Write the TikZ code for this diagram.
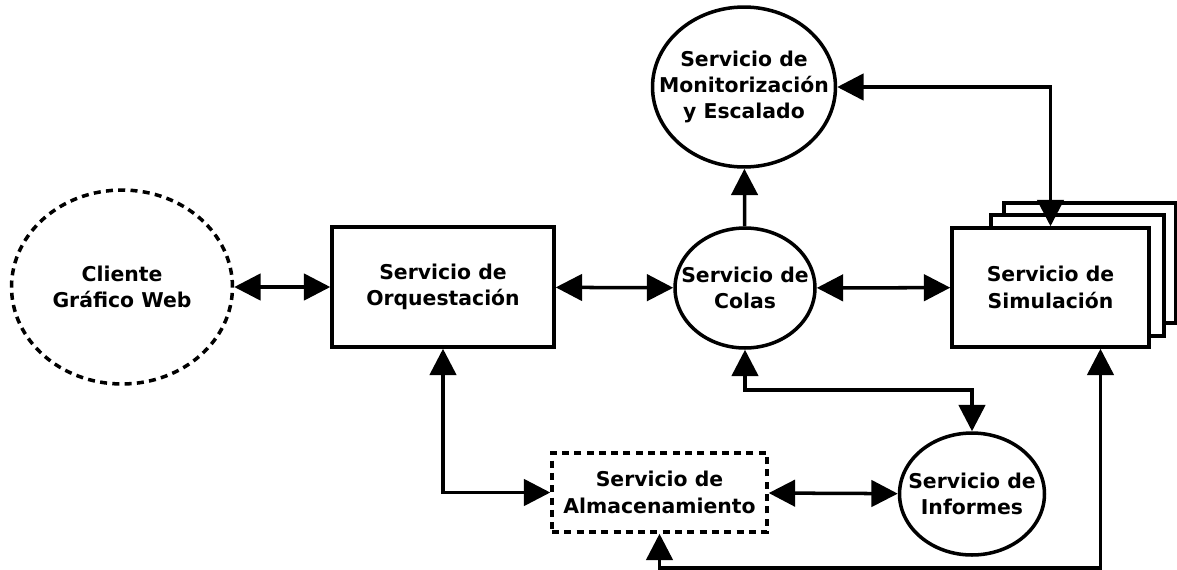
\documentclass[tikz,border=0pt]{standalone}
\usepackage{fontspec}
\setmainfont{DejaVu Sans}
\usetikzlibrary{shapes.geometric,arrows.meta}
\tikzset{
    srvtext/.style = {align=center, font=\fontsize{11.6pt}{15pt}\selectfont\bfseries},
    srv/.style = {draw, line width=2pt, fill=white, inner sep=0pt, srvtext},
    box/.style = {srv, rectangle},
    oval/.style = {srv, ellipse},
    dashy/.style = {dash pattern=on 4pt off 3pt},
    tip/.tip = {Triangle[length=15pt,width=15pt]},
    link/.style = {line width=2pt, tip-tip},
    onelink/.style = {line width=2pt, -tip},
}
\begin{document}
\begin{tikzpicture}[x = 0.02cm, y = -0.02cm]
        \useasboundingbox (0,0) rectangle (1177,569);
        \node [oval, dashy, minimum width=4.42cm, minimum height=3.88cm] (cli) at (122,287) {Cliente\\Gráfico Web};
        \node [box, minimum width=4.44cm, minimum height=2.4cm] (orq) at (443,287) {Servicio de\\Orquestación};
        \node [oval, minimum width=2.8cm, minimum height=2.4cm,
               label={[srvtext]center:Servicio de\\Colas}] (colas) at (745,288) {};
        \node [oval, minimum width=3.66cm, minimum height=3.2cm,
               label={[srvtext]center:Servicio de\\Monitorización\\y Escalado}] (mon) at (744,87) {};
        \node [box, minimum width=3.44cm, minimum height=2.4cm] (sim3) at (1090,263) {};
        \node [box, minimum width=3.46cm, minimum height=2.42cm] (sim2) at (1077.5,275.5) {};
        \node [box, minimum width=3.94cm, minimum height=2.38cm] (sim) at (1050.5,287.5) {Servicio de\\Simulación};
        \node [box, dashy, minimum width=4.3cm, minimum height=1.58cm] (alm) at (659.5,492.5) {Servicio de\\Almacenamiento};
        \node [oval, minimum width=2.9cm, minimum height=2.44cm,
               label={[srvtext]center:Servicio de\\Informes}] (inf) at (972,494) {};
        \coordinate (colasdown) at (745,390);
        \coordinate (almdown) at (659.5,568);
        \draw [link] (cli) -- (orq);
        \draw [link] (orq) -- (colas);
        \draw [link] (colas) -- (sim);
        \draw [onelink] (colas) -- (mon);
        \draw [link] (mon) -| (sim);
        \draw [link] (orq) |- (alm);
        \draw [link] (colas.south) -- (colasdown) -| (inf.north);
        \draw [link] (alm) -- (inf);
        \draw [link] (alm.south) -- (almdown) -| ([xshift=1cm]sim.south);
    \end{tikzpicture}
\end{document}
